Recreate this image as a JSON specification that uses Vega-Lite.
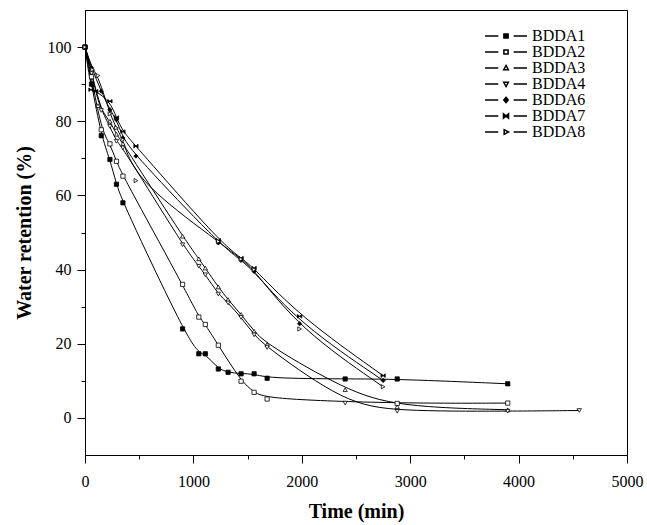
{
  "$schema": "https://vega.github.io/schema/vega-lite/v6.json",
  "width": 542,
  "height": 445,
  "autosize": {"type": "none"},
  "padding": {"left": 85, "top": 10, "right": 20, "bottom": 70},
  "background": "white",
  "config": {
    "view": {"stroke": "black", "strokeWidth": 1},
    "font": "Liberation Serif",
    "axis": {
      "grid": false,
      "domainColor": "black",
      "tickColor": "black",
      "labelColor": "black",
      "titleColor": "black",
      "labelFont": "Liberation Serif",
      "titleFont": "Liberation Serif",
      "labelFontSize": 16,
      "titleFontSize": 20,
      "titleFontWeight": "bold"
    },
    "legend": {
      "labelFont": "Liberation Serif",
      "labelFontSize": 16,
      "labelColor": "black"
    }
  },
  "data": {
    "values": [
      {"s": "BDDA1", "t": 0, "r": 100}, {"s": "BDDA1", "t": 60, "r": 90}, {"s": "BDDA1", "t": 150, "r": 76.1}, {"s": "BDDA1", "t": 230, "r": 69.7}, {"s": "BDDA1", "t": 290, "r": 63}, {"s": "BDDA1", "t": 350, "r": 58}, {"s": "BDDA1", "t": 900, "r": 24}, {"s": "BDDA1", "t": 1050, "r": 17.3}, {"s": "BDDA1", "t": 1110, "r": 17.3}, {"s": "BDDA1", "t": 1230, "r": 13.2}, {"s": "BDDA1", "t": 1320, "r": 12.3}, {"s": "BDDA1", "t": 1440, "r": 11.9}, {"s": "BDDA1", "t": 1560, "r": 11.9}, {"s": "BDDA1", "t": 1680, "r": 10.7}, {"s": "BDDA1", "t": 2400, "r": 10.5}, {"s": "BDDA1", "t": 2880, "r": 10.5}, {"s": "BDDA1", "t": 3900, "r": 9.2},
      {"s": "BDDA2", "t": 0, "r": 100}, {"s": "BDDA2", "t": 60, "r": 92}, {"s": "BDDA2", "t": 150, "r": 77.7}, {"s": "BDDA2", "t": 230, "r": 73.9}, {"s": "BDDA2", "t": 290, "r": 69.2}, {"s": "BDDA2", "t": 350, "r": 65.2}, {"s": "BDDA2", "t": 900, "r": 36}, {"s": "BDDA2", "t": 1050, "r": 27.2}, {"s": "BDDA2", "t": 1110, "r": 25.2}, {"s": "BDDA2", "t": 1230, "r": 19.6}, {"s": "BDDA2", "t": 1440, "r": 9.9}, {"s": "BDDA2", "t": 1560, "r": 6.9}, {"s": "BDDA2", "t": 1680, "r": 5.1}, {"s": "BDDA2", "t": 2880, "r": 3.9}, {"s": "BDDA2", "t": 3900, "r": 4.0},
      {"s": "BDDA3", "t": 0, "r": 100}, {"s": "BDDA3", "t": 60, "r": 94}, {"s": "BDDA3", "t": 120, "r": 84.2}, {"s": "BDDA3", "t": 230, "r": 80}, {"s": "BDDA3", "t": 290, "r": 76.5}, {"s": "BDDA3", "t": 350, "r": 74}, {"s": "BDDA3", "t": 900, "r": 49}, {"s": "BDDA3", "t": 1050, "r": 42.9}, {"s": "BDDA3", "t": 1110, "r": 40.4}, {"s": "BDDA3", "t": 1230, "r": 35.3}, {"s": "BDDA3", "t": 1320, "r": 31.9}, {"s": "BDDA3", "t": 1440, "r": 27.9}, {"s": "BDDA3", "t": 1560, "r": 23.4}, {"s": "BDDA3", "t": 1680, "r": 19.8}, {"s": "BDDA3", "t": 2400, "r": 7.6}, {"s": "BDDA3", "t": 2880, "r": 3.0}, {"s": "BDDA3", "t": 3900, "r": 2.2},
      {"s": "BDDA4", "t": 0, "r": 100}, {"s": "BDDA4", "t": 60, "r": 93}, {"s": "BDDA4", "t": 150, "r": 82.9}, {"s": "BDDA4", "t": 230, "r": 78.6}, {"s": "BDDA4", "t": 290, "r": 74.6}, {"s": "BDDA4", "t": 350, "r": 72.8}, {"s": "BDDA4", "t": 900, "r": 46.7}, {"s": "BDDA4", "t": 1050, "r": 40.9}, {"s": "BDDA4", "t": 1110, "r": 38.6}, {"s": "BDDA4", "t": 1230, "r": 33.4}, {"s": "BDDA4", "t": 1320, "r": 31.0}, {"s": "BDDA4", "t": 1440, "r": 27.1}, {"s": "BDDA4", "t": 1560, "r": 22.4}, {"s": "BDDA4", "t": 1680, "r": 19.0}, {"s": "BDDA4", "t": 2400, "r": 4.0}, {"s": "BDDA4", "t": 2880, "r": 1.8}, {"s": "BDDA4", "t": 3900, "r": 1.8}, {"s": "BDDA4", "t": 4560, "r": 2.0},
      {"s": "BDDA6", "t": 0, "r": 100}, {"s": "BDDA6", "t": 60, "r": 94.4}, {"s": "BDDA6", "t": 150, "r": 88.1}, {"s": "BDDA6", "t": 230, "r": 83.1}, {"s": "BDDA6", "t": 290, "r": 80.4}, {"s": "BDDA6", "t": 350, "r": 75.5}, {"s": "BDDA6", "t": 470, "r": 70.6}, {"s": "BDDA6", "t": 1230, "r": 47.2}, {"s": "BDDA6", "t": 1440, "r": 42.5}, {"s": "BDDA6", "t": 1560, "r": 39.5}, {"s": "BDDA6", "t": 1980, "r": 25.4}, {"s": "BDDA6", "t": 2750, "r": 10.1},
      {"s": "BDDA7", "t": 0, "r": 100}, {"s": "BDDA7", "t": 55, "r": 88.5}, {"s": "BDDA7", "t": 100, "r": 88.1}, {"s": "BDDA7", "t": 230, "r": 85.4}, {"s": "BDDA7", "t": 290, "r": 81}, {"s": "BDDA7", "t": 350, "r": 77.2}, {"s": "BDDA7", "t": 470, "r": 73.3}, {"s": "BDDA7", "t": 1230, "r": 47.9}, {"s": "BDDA7", "t": 1440, "r": 43.1}, {"s": "BDDA7", "t": 1560, "r": 40.4}, {"s": "BDDA7", "t": 1980, "r": 27.4}, {"s": "BDDA7", "t": 2750, "r": 11.4},
      {"s": "BDDA8", "t": 0, "r": 100}, {"s": "BDDA8", "t": 70, "r": 93.9}, {"s": "BDDA8", "t": 120, "r": 92.3}, {"s": "BDDA8", "t": 230, "r": 82}, {"s": "BDDA8", "t": 290, "r": 78.2}, {"s": "BDDA8", "t": 350, "r": 75}, {"s": "BDDA8", "t": 470, "r": 64}, {"s": "BDDA8", "t": 1230, "r": 47.6}, {"s": "BDDA8", "t": 1440, "r": 42.8}, {"s": "BDDA8", "t": 1560, "r": 40}, {"s": "BDDA8", "t": 1980, "r": 24}, {"s": "BDDA8", "t": 2750, "r": 8.4}
    ]
  },
  "encoding": {
    "x": {
      "field": "t", "type": "quantitative",
      "scale": {"domain": [0, 5000], "nice": false, "zero": false},
      "axis": {
        "title": "Time (min)",
        "orient": "bottom",
        "values": [0, 500, 1000, 1500, 2000, 2500, 3000, 3500, 4000, 4500, 5000],
        "labelExpr": "datum.value % 1000 ? '' : datum.label",
        "format": "d",
        "tickSize": {"condition": {"test": "datum.value % 1000", "value": 4}, "value": 8},
        "labelPadding": 10,
        "titlePadding": 12,
        "labelFlush": false
      }
    },
    "y": {
      "field": "r", "type": "quantitative",
      "scale": {"domain": [-10, 110], "nice": false, "zero": false},
      "axis": {
        "title": "Water retention (%)",
        "orient": "left",
        "values": [0, 10, 20, 30, 40, 50, 60, 70, 80, 90, 100],
        "labelExpr": "datum.value % 20 ? '' : datum.label",
        "tickSize": {"condition": {"test": "datum.value % 20", "value": 4}, "value": 8},
        "labelPadding": 6,
        "titlePadding": 13,
        "labelFlush": false
      }
    }
  },
  "layer": [
    {
      "mark": {"type": "line", "color": "black", "strokeWidth": 1, "interpolate": "basis"},
      "encoding": {"detail": {"field": "s", "type": "nominal"}}
    },
    {
      "mark": {"type": "point", "stroke": "black", "strokeWidth": 0.8, "size": 18, "opacity": 1},
      "encoding": {
        "shape": {
          "field": "s", "type": "nominal", "legend": null,
          "scale": {
            "domain": ["BDDA1", "BDDA2", "BDDA3", "BDDA4", "BDDA6", "BDDA7", "BDDA8"],
            "range": ["square", "square", "triangle-up", "triangle-down", "diamond", "M-1,-0.85L1,0.85L1,-0.85L-1,0.85Z", "triangle-right"]
          }
        },
        "fill": {
          "field": "s", "type": "nominal", "legend": null,
          "scale": {
            "domain": ["BDDA1", "BDDA2", "BDDA3", "BDDA4", "BDDA6", "BDDA7", "BDDA8"],
            "range": ["black", "white", "white", "white", "black", "black", "white"]
          }
        }
      }
    },
    {
      "transform": [{"filter": "false"}],
      "mark": {"type": "point", "stroke": "black", "strokeWidth": 0.8, "opacity": 1},
      "encoding": {
        "shape": {
          "field": "s", "type": "nominal",
          "scale": {
            "domain": ["BDDA1", "BDDA2", "BDDA3", "BDDA4", "BDDA6", "BDDA7", "BDDA8"],
            "range": [
              "M-3,0H-1.1M1.1,0H3M-0.3,-0.3H0.3V0.3H-0.3Z",
              "M-3,0H-1.1M1.1,0H3M-0.3,-0.3H0.3V0.3H-0.3Z",
              "M-3,0H-1.1M1.1,0H3M0,-0.36L0.33,0.25H-0.33Z",
              "M-3,0H-1.1M1.1,0H3M0,0.36L0.33,-0.25H-0.33Z",
              "M-3,0H-1.1M1.1,0H3M0,-0.38L0.32,0L0,0.38L-0.32,0Z",
              "M-3,0H-1.1M1.1,0H3M-0.36,-0.3L0.36,0.3L0.36,-0.3L-0.36,0.3Z",
              "M-3,0H-1.1M1.1,0H3M0.36,0L-0.26,-0.33V0.33Z"
            ]
          },
          "legend": {
            "title": null,
            "orient": "none",
            "legendX": 413,
            "legendY": 18,
            "padding": 0,
            "symbolSize": 196,
            "labelOffset": 18,
            "rowPadding": 0,
            "encode": {"symbols": {"update": {"stroke": {"value": "black"}, "strokeWidth": {"value": 0.8}, "opacity": {"value": 1}}}}
          }
        },
        "fill": {
          "field": "s", "type": "nominal",
          "scale": {
            "domain": ["BDDA1", "BDDA2", "BDDA3", "BDDA4", "BDDA6", "BDDA7", "BDDA8"],
            "range": ["black", "white", "white", "white", "black", "black", "white"]
          },
          "legend": {
            "title": null,
            "orient": "none",
            "legendX": 413,
            "legendY": 18,
            "padding": 0,
            "symbolSize": 196,
            "labelOffset": 18,
            "rowPadding": 0,
            "encode": {"symbols": {"update": {"stroke": {"value": "black"}, "strokeWidth": {"value": 0.8}, "opacity": {"value": 1}}}}
          }
        }
      }
    }
  ],
  "resolve": {"scale": {"shape": "independent", "fill": "independent"}}
}
